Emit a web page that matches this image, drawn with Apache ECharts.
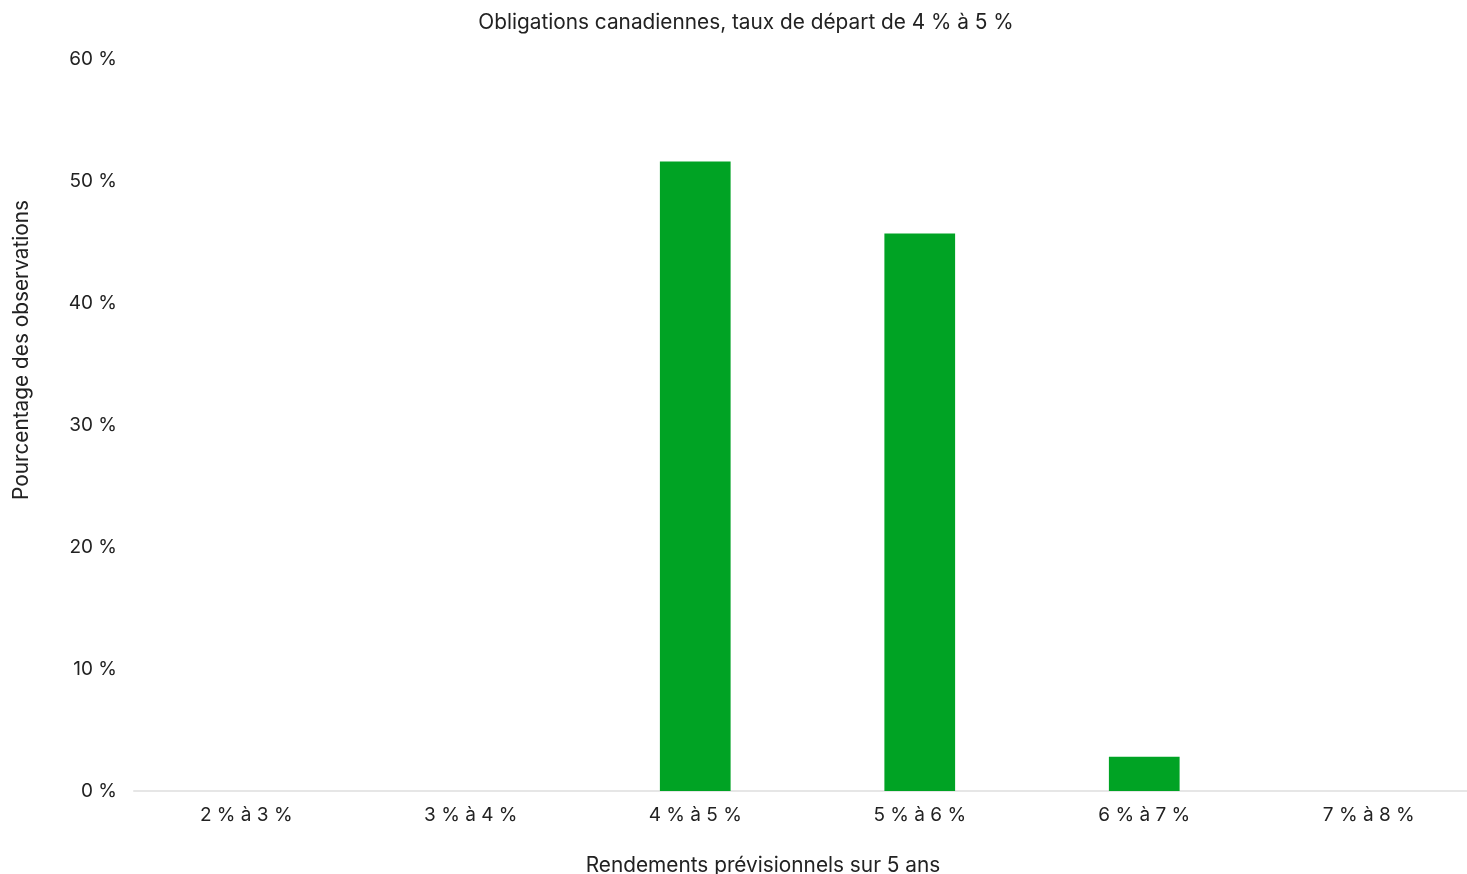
<!DOCTYPE html>
<html>
<head>
<meta charset="utf-8">
<script src="https://cdn.jsdelivr.net/npm/echarts@6/dist/echarts.min.js"></script>
<style>html,body{margin:0;padding:0;background:#fff;}#chart{width:1467px;height:874px;}</style>
</head>
<body>
<div id="chart"></div>
<script>
const categories = ['2 % à 3 %', '3 % à 4 %', '4 % à 5 %', '5 % à 6 %', '6 % à 7 %', '7 % à 8 %'];
const values = [0, 0, 51.6, 45.7, 2.8, 0];
const yTicks = { min: 0, max: 60, interval: 10 };
const chartTitle = 'Obligations canadiennes, taux de départ de 4 % à 5 %';
const xTitle = 'Rendements prévisionnels sur 5 ans';
const yTitle = 'Pourcentage des observations';

const FONT = 'Inter';
const TXT = '#222222';
const TITLE_SIZE = 20.8;
const chart = echarts.init(document.getElementById('chart'));
chart.setOption({
  backgroundColor: '#ffffff',
  animation: false,
  textStyle: { fontFamily: FONT, color: TXT },
  title: [
    { text: chartTitle, left: 741, top: 7, textAlign: 'center',
      textStyle: { fontFamily: FONT, fontSize: TITLE_SIZE, fontWeight: 'normal', color: TXT } },
    { text: xTitle, left: 758, top: 850, textAlign: 'center',
      textStyle: { fontFamily: FONT, fontSize: TITLE_SIZE, fontWeight: 'normal', color: TXT } }
  ],
  graphic: [{
    type: 'text', x: 22, y: 350, rotation: Math.PI / 2,
    style: { text: yTitle, fill: TXT, font: TITLE_SIZE + 'px ' + FONT, align: 'center', verticalAlign: 'middle' }
  }],
  grid: { left: 134, width: 1347, top: 59, bottom: 83, containLabel: false, outerBoundsMode: 'none' },
  xAxis: {
    type: 'category', data: categories,
    axisLine: { lineStyle: { color: '#e6e6e6', width: 2 } },
    axisTick: { show: false },
    axisLabel: { fontFamily: FONT, fontSize: 19, color: TXT, margin: 15 }
  },
  yAxis: {
    type: 'value', min: yTicks.min, max: yTicks.max, interval: yTicks.interval,
    splitLine: { show: false },
    axisLine: { show: false }, axisTick: { show: false },
    axisLabel: { fontFamily: FONT, fontSize: 19, color: TXT, margin: 17, formatter: '{value} %' }
  },
  series: [{
    type: 'bar', data: values, barWidth: '31.5%',
    itemStyle: { color: '#00a324' }
  }]
});
</script>
</body>
</html>
